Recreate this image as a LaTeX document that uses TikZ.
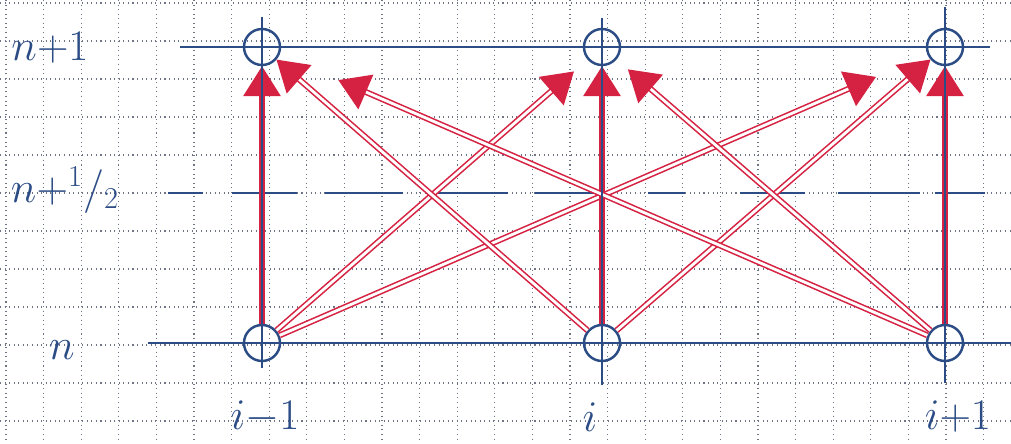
\documentclass[tikz,border=0pt]{standalone}
\usepackage{tikz}
\usetikzlibrary{arrows.meta,positioning}
\definecolor{Ink}{HTML}{2B4C85}
\definecolor{Pen}{HTML}{D62242}
\definecolor{Grid}{HTML}{6E7484}
\tikzset{
sketchgrid/.style={draw=Grid, line width=0.6pt, dotted},
sketchline/.style={draw=Ink, line width=1.5pt},
sketchnode/.style={circle, draw=Ink, line width=1.4pt, minimum size=0.72cm, inner sep=0pt},
sketcharrow/.style={draw=Pen, line width=0.9pt, double=white, double distance=1.6pt, -{Triangle[length=0.6cm, width=0.75cm]}},
sketchlabel/.style={text=Ink, font=\fontsize{26}{28}\selectfont}
}

\begin{document}
\begin{tikzpicture}[x=0.02cm, y=-0.02cm]
  \useasboundingbox (0,0) rectangle (1011,443);
  \fill[white] (0,0) rectangle (1011,443);
  % squared paper
  \foreach \gx in {0,...,26} \draw[sketchgrid] ({6+37.6*\gx},0) -- ({6+37.6*\gx},443);
  \foreach \gy in {0,...,11} \draw[sketchgrid] (0,{3+38*\gy}) -- (1011,{3+38*\gy});
  % time levels
  \draw[sketchline] (180,47) -- (990,47);
  \draw[sketchline] (148,343) -- (1011,343);
  \foreach \da/\db in {168/203,232/297,325/403,437/508,535/600,648/685,740/805,838/920,935/985}
    \draw[sketchline] (\da,193) -- (\db,193);
  % grid points
  \node[sketchnode] (t1) at (262,47) {};
  \node[sketchnode] (t2) at (602,47) {};
  \node[sketchnode] (t3) at (945,47) {};
  \node[sketchnode] (b1) at (262,343) {};
  \node[sketchnode] (b2) at (602,343) {};
  \node[sketchnode] (b3) at (945,343) {};
  % stencil
  \draw[sketcharrow] (b1) -- (t1);
  \draw[sketcharrow, shorten >=0.36cm] (b1) -- (t2);
  \draw[sketcharrow, shorten >=1.12cm] (b1) -- (t3);
  \draw[sketcharrow] (b2) -- (t1);
  \draw[sketcharrow] (b2) -- (t2);
  \draw[sketcharrow] (b2) -- (t3);
  \draw[sketcharrow, shorten >=1.28cm] (b3) -- (t1);
  \draw[sketcharrow, shorten >=0.3cm] (b3) -- (t2);
  \draw[sketcharrow] (b3) -- (t3);
  % space positions
  \draw[sketchline] (262,17) -- (262,368);
  \draw[sketchline] (602,18) -- (602,385);
  \draw[sketchline] (945,7) -- (945,383);
  % labels
  \node[sketchlabel] (lvtop) at (50,48) {$n{+}1$};
  \node[sketchlabel] (lvhalf) at (65,190) {$n{+}{}^1/_2$};
  \node[sketchlabel] (lvbot) at (62,350) {$n$};
  \node[sketchlabel] (pleft) at (265,417) {$i{-}1$};
  \node[sketchlabel] (pmid) at (590,417) {$i$};
  \node[sketchlabel] (pright) at (958,417) {$i{+}1$};
\end{tikzpicture}
\end{document}
